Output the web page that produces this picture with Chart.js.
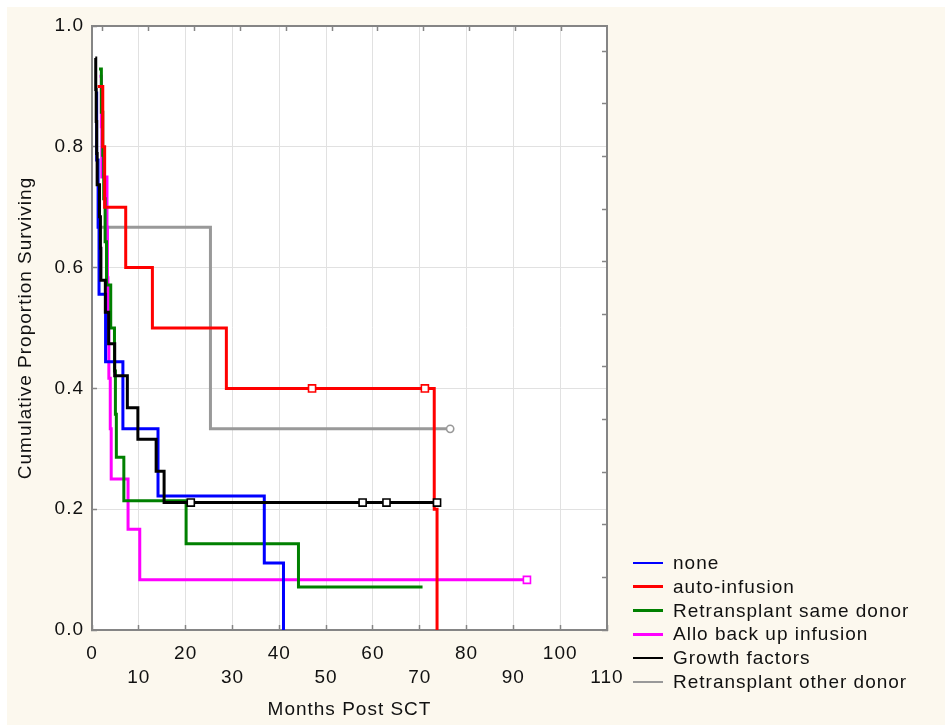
<!DOCTYPE html>
<html>
<head>
<meta charset="utf-8">
<script src="https://cdn.jsdelivr.net/npm/chart.js@4/dist/chart.umd.min.js"></script>
<style>
  html, body { margin: 0; padding: 0; background: #ffffff; }
  #wrap { position: relative; width: 945px; height: 725px; }
  #legend { position: absolute; left: 633px; top: 551px; font-family: 'Liberation Sans', Arial, sans-serif; font-size: 19px; letter-spacing: 1px; color: #111; }
  .row { height: 23.8px; line-height: 23.8px; white-space: nowrap; display: flex; align-items: center; }
  .swatch { width: 30px; height: 2.5px; margin-right: 10px; flex: none; }
</style>
</head>
<body>
<div id="wrap">
  <canvas id="c" width="945" height="725"></canvas>
  <div id="legend"></div>
</div>
<script>
// ---- data (months, cumulative proportion surviving) ----
const seriesLabels = ['none', 'auto-infusion', 'Retransplant same donor', 'Allo back up infusion', 'Growth factors', 'Retransplant other donor'];
const seriesColors = ['#0000ff', '#ff0000', '#008000', '#ff00ff', '#000000', '#999999'];

const noneTime = [0.9, 1.0, 1.3, 1.5, 2.9, 6.6, 14.1, 36.8, 40.9];
const noneSurv = [0.889, 0.778, 0.667, 0.556, 0.444, 0.333, 0.222, 0.111, 0];

const autoTime = [1.2, 2.3, 2.7, 7.2, 12.9, 28.7, 73.1, 73.7];
const autoSurv = [0.9, 0.8, 0.7, 0.6, 0.5, 0.4, 0.2, 0];
const autoCensTime = [47.0, 71.1];
const autoCensSurv = [0.4, 0.4];

const sameTime = [1.5, 2.0, 2.3, 2.5, 2.8, 3.1, 4.0, 4.8, 5.0, 5.2, 6.8, 20.1, 44.1, 70.6];
const sameSurv = [0.929, 0.857, 0.786, 0.714, 0.643, 0.571, 0.5, 0.429, 0.357, 0.286, 0.214, 0.143, 0.071, 0.071];

const alloTime = [1.6, 2.0, 2.1, 3.2, 3.3, 3.4, 3.6, 3.9, 4.1, 7.7, 10.2, 92.9];
const alloSurv = [0.917, 0.833, 0.75, 0.667, 0.583, 0.5, 0.417, 0.333, 0.25, 0.167, 0.083, 0.083];
const alloCensTime = [92.9];
const alloCensSurv = [0.083];

const growthTime = [0.7, 0.8, 0.9, 1.0, 1.1, 1.6, 1.8, 1.9, 2.85, 3.55, 4.85, 7.55, 9.8, 13.7, 15.4, 73.7];
const growthSurv = [0.947, 0.895, 0.842, 0.789, 0.737, 0.684, 0.632, 0.579, 0.526, 0.474, 0.421, 0.368, 0.316, 0.263, 0.211, 0.211];
const growthCensTime = [21.1, 57.8, 62.9, 73.7];
const growthCensSurv = [0.211, 0.211, 0.211, 0.211];

const otherTime = [2.0, 25.3, 76.5];
const otherSurv = [0.667, 0.333, 0.333];
const otherCensTime = [76.5];
const otherCensSurv = [0.333];

const xTickValues = [0, 10, 20, 30, 40, 50, 60, 70, 80, 90, 100, 110];
const yTickValues = [0, 0.2, 0.4, 0.6, 0.8, 1.0];
const topTickValues = [0, 1, 2, 3, 4, 5, 6, 7, 8, 9, 10];
const rightTickValues = [0, 1, 2, 3, 4, 5, 6, 7, 8, 9, 10, 11];

// ---- build ----
const FONT = "'Liberation Sans', Arial, sans-serif";
const pts = (t, s) => t.map((v, i) => ({ x: v, y: s[i] }));
const curveOrder = [2, 1, 3, 4, 0, 5];
const curves = [
  [noneTime, noneSurv], [autoTime, autoSurv], [sameTime, sameSurv],
  [alloTime, alloSurv], [growthTime, growthSurv], [otherTime, otherSurv]
].map((c, i) => ({
  label: seriesLabels[i],
  data: pts(c[0], c[1]),
  borderColor: seriesColors[i],
  backgroundColor: seriesColors[i],
  borderWidth: 3,
  stepped: 'before',
  pointRadius: 0,
  fill: false,
  order: curveOrder[i],
  isCurve: true
}));
const marks = [
  [autoCensTime, autoCensSurv, 1, 'rect', 5],
  [alloCensTime, alloCensSurv, 3, 'rect', 5],
  [growthCensTime, growthCensSurv, 4, 'rect', 5],
  [otherCensTime, otherCensSurv, 5, 'circle', 3.6]
].map(m => ({
  label: seriesLabels[m[2]] + ' (censored)',
  data: pts(m[0], m[1]),
  showLine: false,
  pointStyle: m[3],
  pointRadius: m[4],
  pointBackgroundColor: '#ffffff',
  pointBorderColor: seriesColors[m[2]],
  pointBorderWidth: 1.6,
  order: -1,
  isCurve: false
}));

const framePlugin = {
  id: 'frame',
  beforeDraw(chart) {
    const { ctx, chartArea: a, width, height } = chart;
    ctx.save();
    ctx.fillStyle = '#ffffff';
    ctx.fillRect(0, 0, width, height);
    ctx.fillStyle = '#fcf8ee';
    ctx.fillRect(7, 7, width - 7, height - 7);
    ctx.fillStyle = '#ffffff';
    ctx.fillRect(a.left, a.top, a.right - a.left, a.bottom - a.top);
    ctx.restore();
    ctx.letterSpacing = '1px';
  }
};

const gridColor = '#e1e1e1';
const axisColor = '#858585';
const TXT = '#111';

const chart = new Chart(document.getElementById('c'), {
  type: 'line',
  data: { datasets: curves.concat(marks) },
  plugins: [framePlugin],
  options: {
    responsive: false,
    devicePixelRatio: 1,
    animation: false,
    layout: { padding: { left: 0, top: 26, right: 338, bottom: 0 } },
    plugins: { legend: { display: false }, tooltip: { enabled: false } },
    scales: {
      x: {
        type: 'linear', position: 'bottom', min: 0, max: 110,
        afterBuildTicks: s => { s.ticks = xTickValues.map(v => ({ value: v })); },
        afterFit: s => { s.height = 95; },
        ticks: {
          autoSkip: false, maxRotation: 0, padding: 17, color: TXT,
          font: { family: FONT, size: 19, lineHeight: 1.26 },
          callback: v => ((v / 10) % 2 === 1 ? ['', String(v)] : String(v))
        },
        grid: { color: gridColor, lineWidth: 1, tickLength: -5, tickColor: axisColor, tickWidth: 1.5 },
        border: { color: axisColor, width: 2 },
        title: { display: true, text: 'Months Post SCT', color: TXT, font: { family: FONT, size: 19, lineHeight: 1.2 }, padding: { top: 0, bottom: 4 } }
      },
      y: {
        type: 'linear', position: 'left', min: 0, max: 1,
        afterBuildTicks: s => { s.ticks = yTickValues.map(v => ({ value: v })); },
        afterFit: s => { s.width = 92; },
        ticks: {
          padding: 13, color: TXT,
          font: { family: FONT, size: 19 },
          callback: v => Number(v).toFixed(1)
        },
        grid: { color: gridColor, lineWidth: 1, tickLength: -5, tickColor: axisColor, tickWidth: 1.5 },
        border: { color: axisColor, width: 2 },
        title: { display: true, text: 'Cumulative Proportion Surviving', color: TXT, font: { family: FONT, size: 19, lineHeight: 1.2 }, padding: { top: 14, bottom: 0 } }
      },
      x2: {
        type: 'linear', position: 'top', min: -0.24, max: 11.0,
        afterBuildTicks: s => { s.ticks = topTickValues.map(v => ({ value: v })); },
        afterFit: s => { s.height = 0; },
        ticks: { display: false },
        grid: { drawOnChartArea: false, tickLength: -5, tickColor: axisColor, tickWidth: 1.5 },
        border: { color: axisColor, width: 2 }
      },
      y2: {
        type: 'linear', position: 'right', min: 0, max: 11.48,
        afterBuildTicks: s => { s.ticks = rightTickValues.map(v => ({ value: v })); },
        afterFit: s => { s.width = 0; },
        ticks: { display: false },
        grid: { drawOnChartArea: false, tickLength: -5, tickColor: axisColor, tickWidth: 1.5 },
        border: { color: axisColor, width: 2 }
      }
    }
  }
});

// HTML legend built from the chart's own datasets
const legend = document.getElementById('legend');
chart.data.datasets.filter(d => d.isCurve).forEach(d => {
  const row = document.createElement('div');
  row.className = 'row';
  const sw = document.createElement('span');
  sw.className = 'swatch';
  sw.style.background = d.borderColor;
  const tx = document.createElement('span');
  tx.textContent = d.label;
  row.appendChild(sw);
  row.appendChild(tx);
  legend.appendChild(row);
});
</script>
</body>
</html>
